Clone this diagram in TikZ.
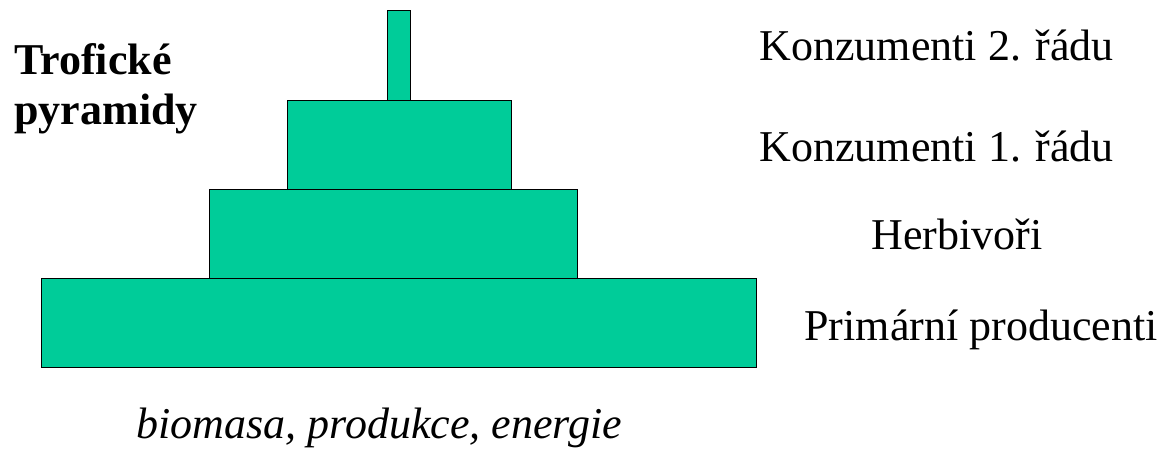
\documentclass[tikz,border=0pt]{standalone}
\usepackage{fontspec}
\setmainfont{Liberation Serif}
\usetikzlibrary{positioning}
\definecolor{cteal}{HTML}{00CC99}
\tikzset{
  every picture/.style={line width=1pt},
  tier/.style={draw=black, fill=cteal, inner sep=0pt, minimum width=#1},
  tier/.default=100pt,
  level/.style={font=\fontsize{44}{50}\selectfont, anchor=base west, inner sep=0pt},
  title/.style={font=\fontsize{44}{50}\selectfont\bfseries, anchor=base west, inner sep=0pt},
}

\begin{document}
\begin{tikzpicture}[x=1pt, y=-1pt, h/.style={minimum height=89pt}]
  \useasboundingbox (0,0) rectangle (1170,450);
  \node[tier=714.7pt, h] (prod) at (399.3,323.3) {};
  \node[tier=368.7pt, h] (herb) at (393.6,234) {};
  \node[tier=223.6pt, h] (kon1) at (399.5,144.6) {};
  \node[tier=22.7pt, minimum height=89.7pt] (kon2) at (399.3,55.2) {};
  \node[title] (t1) at (14,74) {Trofické};
  \node[title] (t2) at (14,124) {pyramidy};
  \node[level] (l2) at (759,60) {Konzumenti 2. řádu};
  \node[level] (l1) at (759,161) {Konzumenti 1. řádu};
  \node[level] (lh) at (871,249) {Herbivoři};
  \node[level] (lp) at (804,340) {Primární producenti};
  \node[level, font=\fontsize{44}{50}\selectfont\itshape] (axis) at (136,438) {biomasa, produkce, energie};
\end{tikzpicture}
\end{document}
